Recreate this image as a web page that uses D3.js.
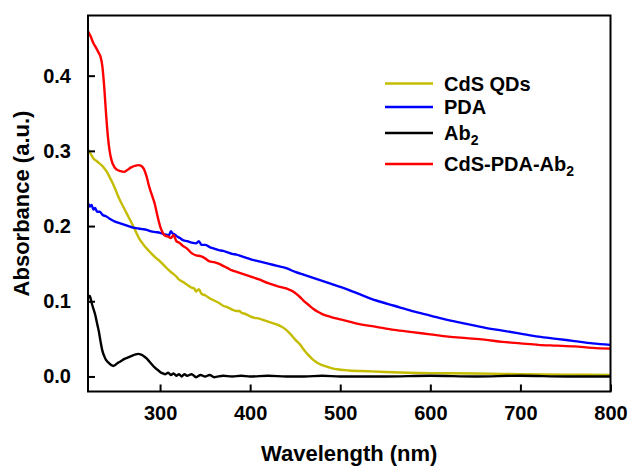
<!DOCTYPE html>
<html>
<head>
<meta charset="utf-8">
<script src="https://cdn.jsdelivr.net/npm/d3@7"></script>
<style>
  html, body { margin: 0; padding: 0; background: #fff; }
  svg { display: block; font-family: "Liberation Sans", Arial, sans-serif; font-weight: bold; }
</style>
</head>
<body>
<svg id="chart" width="631" height="468"></svg>
<script>
// UV-vis absorption spectra: [wavelength (nm), absorbance (a.u.)]
const cdsQDs = [
  [220,.302],[223,.296],[226,.290],[229,.287],[232,.284],[235,.281],[238,.277],[241,.272],
  [244,.265],[247,.258],[250,.250],[253,.241],[256,.233],[259,.226],[262,.219],[265,.212],
  [268,.205],[271,.198],[274,.190],[277,.183],[280,.178],[283,.173],[286,.169],[290,.164],
  [295,.158],[300,.153],[305,.147],[310,.141],[313,.138],[315,.136],[318,.133],[320,.130],
  [325,.126],[330,.122],[335,.118],[338,.117],[340,.113],[343,.116],[346,.110],[350,.108],
  [355,.104],[360,.101],[365,.098],[370,.094],[375,.092],[380,.089],[385,.087],[388,.087],
  [390,.085],[395,.083],[400,.080],[405,.078],[410,.077],[415,.075],[420,.073],[425,.071],
  [430,.069],[435,.066],[440,.062],[445,.056],[450,.049],[455,.043],[460,.035],[465,.028],
  [470,.022],[475,.018],[480,.015],[485,.013],[490,.011],[500,.009],[510,.008],[530,.007],
  [550,.006],[575,.005],[600,.0045],[650,.004],[700,.003],[750,.0025],[800,.002]
];
const pda = [
  [220,.231],[222,.226],[224,.228],[226,.222],[228,.224],[230,.219],[233,.219],[236,.215],
  [240,.213],[245,.209],[250,.206],[255,.204],[260,.202],[265,.200],[270,.198],[275,.197],
  [280,.196],[285,.195],[290,.193],[295,.192],[300,.191],[305,.189],[310,.188],[312,.193],
  [314,.190],[316,.189],[318,.187],[322,.184],[326,.181],[330,.180],[335,.178],[340,.177],
  [343,.180],[346,.175],[350,.175],[355,.172],[360,.170],[365,.168],[370,.167],[375,.165],
  [380,.163],[385,.162],[390,.160],[395,.158],[400,.156],[410,.153],[420,.150],[430,.147],
  [440,.144],[450,.139],[460,.135],[470,.131],[480,.127],[490,.123],[500,.119],[520,.110],
  [540,.101],[560,.094],[580,.087],[600,.081],[620,.075],[640,.070],[660,.065],[680,.061],
  [700,.057],[720,.053],[740,.050],[760,.047],[780,.044],[800,.042]
];
const ab2 = [
  [220,.104],[222,.107],[224,.098],[226,.090],[228,.082],[230,.071],[232,.060],[234,.046],
  [236,.034],[238,.027],[240,.022],[243,.018],[246,.015],[248,.014],[250,.015],[253,.018],
  [256,.020],[260,.023],[264,.025],[268,.027],[272,.029],[276,.030],[279,.029],[282,.027],
  [285,.024],[288,.020],[291,.016],[294,.012],[297,.009],[300,.006],[303,.004],[306,.003],
  [309,.005],[312,.002],[315,.004],[318,.001],[321,.003],[324,.000],[327,.003],[330,.001],
  [335,.003],[340,-.001],[345,.002],[350,.000],[355,.002],[360,-.001],[370,.001],[380,.000],
  [390,.001],[400,.000],[420,.001],[440,.000],[460,.000],[480,.001],[500,.000],[550,.000],
  [600,.001],[650,.000],[700,.001],[750,.000],[800,.000]
];
const cdsPdaAb2 = [
  [220,.459],[223,.452],[226,.443],[229,.437],[232,.430],[234,.425],[236,.412],[238,.385],
  [240,.350],[242,.320],[244,.300],[246,.288],[249,.279],[252,.275],[256,.273],[260,.272],
  [264,.275],[268,.278],[272,.280],[276,.281],[279,.280],[282,.276],[285,.266],[288,.252],
  [291,.241],[294,.230],[297,.214],[300,.200],[303,.191],[306,.187],[309,.186],[312,.184],
  [315,.188],[318,.180],[321,.178],[325,.174],[330,.170],[335,.164],[340,.161],[345,.160],
  [350,.157],[355,.153],[360,.152],[365,.150],[370,.147],[375,.144],[380,.141],[385,.139],
  [390,.137],[395,.135],[400,.133],[410,.129],[420,.124],[430,.120],[440,.117],[450,.111],
  [455,.106],[460,.100],[465,.095],[470,.090],[475,.086],[480,.083],[490,.079],[500,.076],
  [510,.073],[520,.070],[540,.066],[560,.062],[580,.059],[600,.056],[620,.053],[640,.051],
  [660,.049],[680,.046],[700,.044],[720,.042],[740,.041],[760,.040],[780,.038],[800,.037]
];

const xTicks = [300, 400, 500, 600, 700, 800];
const yTicks = [0, 0.1, 0.2, 0.3, 0.4];
const labelMain = ["CdS QDs", "PDA", "Ab", "CdS-PDA-Ab"];
const labelSub  = ["", "", "2", "2"];
const colors = ["#c4bc00", "#0000ff", "#000000", "#ff0000"];
const series = [cdsQDs, pda, ab2, cdsPdaAb2];

const svg = d3.select("#chart");
const margin = { left: 88, top: 15.5, right: 20.5, bottom: 76.5 };
const W = 631, H = 468;
const iw = W - margin.left - margin.right;
const ih = H - margin.top - margin.bottom;

const x = d3.scaleLinear().domain([220, 800]).range([0, iw]);
const y = d3.scaleLinear().domain([-0.02, 0.48]).range([ih, 0]);

const g = svg.append("g").attr("transform", `translate(${margin.left},${margin.top})`);

g.append("clipPath").attr("id", "plotClip")
  .append("rect").attr("width", iw).attr("height", ih);

// spectra
const line = d3.line()
  .x(d => x(d[0]))
  .y(d => y(d[1]))
  .curve(d3.curveMonotoneX);

g.append("g").attr("clip-path", "url(#plotClip)")
  .selectAll("path").data(series).join("path")
  .attr("d", line)
  .attr("fill", "none")
  .attr("stroke", (d, i) => colors[i])
  .attr("stroke-width", 2.4)
  .attr("stroke-linejoin", "round");

// axes with inward ticks
const xAxis = d3.axisBottom(x).tickValues(xTicks).tickSize(-7).tickPadding(14)
  .tickFormat(d3.format("d"));
const yAxis = d3.axisLeft(y).tickValues(yTicks).tickSize(-7).tickPadding(17)
  .tickFormat(d3.format(".1f"));

const gx = g.append("g").attr("transform", `translate(0,${ih})`).call(xAxis);
const gy = g.append("g").call(yAxis);
[gx, gy].forEach(a => {
  a.select(".domain").remove();
  a.selectAll(".tick line").attr("stroke", "#000").attr("stroke-width", 2);
  a.selectAll(".tick text").attr("fill", "#000")
    .style("font-size", "20px").style("font-weight", "bold")
    .style("font-family", '"Liberation Sans", Arial, sans-serif');
});

// frame
g.append("rect")
  .attr("width", iw).attr("height", ih)
  .attr("fill", "none").attr("stroke", "#000").attr("stroke-width", 2);

// axis titles
g.append("text")
  .attr("x", iw / 2).attr("y", ih + 69)
  .attr("text-anchor", "middle")
  .style("font-size", "22px")
  .text("Wavelength (nm)");

g.append("text")
  .attr("transform", `translate(${-59},${ih / 2}) rotate(-90)`)
  .attr("text-anchor", "middle")
  .style("font-size", "22px")
  .text("Absorbance (a.u.)");

// legend
const legendRows = [83.5, 107, 133, 164];
const lg = svg.append("g");
labelMain.forEach((name, i) => {
  const yy = legendRows[i];
  lg.append("line")
    .attr("x1", 385).attr("x2", 433).attr("y1", yy).attr("y2", yy)
    .attr("stroke", colors[i]).attr("stroke-width", 2.4);
  const t = lg.append("text")
    .attr("x", 444).attr("y", yy + 7)
    .style("font-size", "20px");
  t.append("tspan").text(name);
  if (labelSub[i]) {
    t.append("tspan").attr("dy", 5).style("font-size", "14px").text(labelSub[i]);
  }
});
</script>
</body>
</html>
